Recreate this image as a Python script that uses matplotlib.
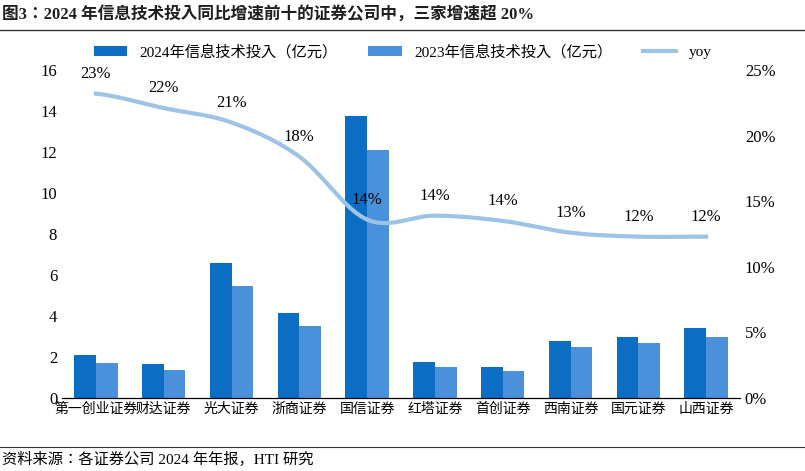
import numpy as np
import matplotlib
matplotlib.use("Agg")
import matplotlib.pyplot as plt
from matplotlib.ticker import FuncFormatter

plt.rcParams["font.family"] = ["Liberation Serif", "Noto Sans CJK JP", "Noto Sans CJK SC", "Noto Sans CJK TC", "Noto Sans CJK KR", "DejaVu Sans"]

categories = ["第一创业证券", "财达证券", "光大证券", "浙商证券", "国信证券", "红塔证券", "首创证券", "西南证券", "国元证券", "山西证券"]
inv_2024 = [2.1, 1.65, 6.6, 4.15, 13.75, 1.75, 1.5, 2.8, 3.0, 3.4]
inv_2023 = [1.7, 1.35, 5.45, 3.5, 12.1, 1.5, 1.3, 2.5, 2.7, 3.0]
yoy = [23.2, 22.1, 21.0, 18.4, 13.6, 13.9, 13.5, 12.6, 12.3, 12.3]
yoy_labels = ["23%", "22%", "21%", "18%", "14%", "14%", "14%", "13%", "12%", "12%"]

fig = plt.figure(figsize=(8.05, 4.71), dpi=100)
ax = fig.add_axes([62/805, 1-398/471, (740-62)/805, (398-70)/471])
x = np.arange(len(categories))
w = 0.32
ax.bar(x - w/2, inv_2024, w, color="#0B6EC3", label="2024年信息技术投入（亿元）")
ax.bar(x + w/2, inv_2023, w, color="#4A90DB", label="2023年信息技术投入（亿元）")
ax.set_ylim(0, 16)
ax.set_yticks(range(0, 17, 2))
ax.set_xlim(-0.5, len(categories) - 0.5)
ax.set_xticks(x)
ax.set_xticklabels(categories, fontsize=10)
for s in ["top", "right", "left"]:
    ax.spines[s].set_visible(False)
ax.tick_params(axis="y", length=0, labelsize=12)
ax.tick_params(axis="x", length=0)

ax2 = ax.twinx()
pts = np.array(yoy)
xs, ys = [], []
P = np.concatenate([[pts[0]], pts, [pts[-1]]])
for i in range(len(pts) - 1):
    t = np.linspace(0, 1, 20)
    p0, p1, p2, p3 = P[i], P[i+1], P[i+2], P[i+3]
    yv = 0.5*((2*p1) + (-p0+p2)*t + (2*p0-5*p1+4*p2-p3)*t**2 + (-p0+3*p1-3*p2+p3)*t**3)
    xs.extend(i + t); ys.extend(yv)
ax2.plot(xs, ys, color="#9DC3E6", lw=3, label="yoy")
for xi, yi, lab in zip(x, yoy, yoy_labels):
    ax2.text(xi, yi + 0.9, lab, ha="center", va="bottom", fontsize=12)
ax2.set_ylim(0, 25)
ax2.set_yticks(range(0, 26, 5))
ax2.yaxis.set_major_formatter(FuncFormatter(lambda v, p: f"{int(v)}%"))
for s in ["top", "right", "left"]:
    ax2.spines[s].set_visible(False)
ax2.tick_params(axis="y", length=0, labelsize=12)

h1, l1 = ax.get_legend_handles_labels()
h2, l2 = ax2.get_legend_handles_labels()
fig.legend(h1 + h2, l1 + l2, loc="center", bbox_to_anchor=(0.5, 1-52/471), ncol=3, frameon=False, fontsize=11, handlelength=2.2, columnspacing=2)

fig.text(0.003, 1-14/471, "图3：2024 年信息技术投入同比增速前十的证券公司中，三家增速超 20%", fontsize=12, fontweight="bold", va="center", color="#1F1F1F")
fig.add_artist(plt.Line2D([0, 1], [1-30/471, 1-30/471], color="#333333", lw=1))
fig.add_artist(plt.Line2D([0, 1], [1-447/471, 1-447/471], color="#333333", lw=0.8))
fig.text(0.003, 1-459/471, "资料来源：各证券公司 2024 年年报，HTI 研究", fontsize=11, va="center")
fig.savefig("out.png", dpi=100)
